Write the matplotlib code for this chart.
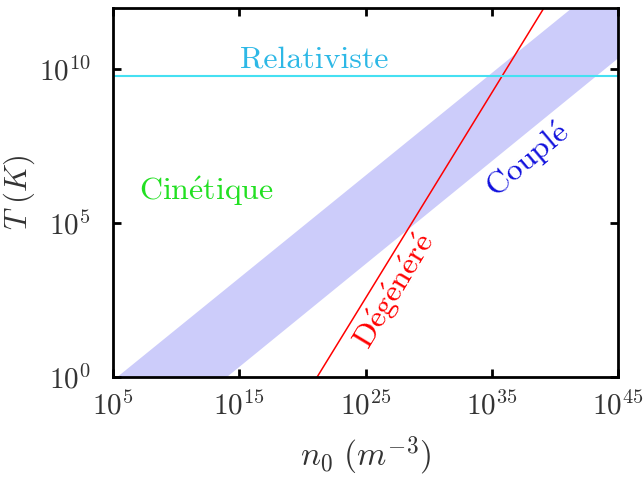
import numpy as np
import matplotlib
matplotlib.use("Agg")
import matplotlib.pyplot as plt

plt.rcParams['font.family'] = 'serif'
plt.rcParams['font.serif'] = ['cmr10']
plt.rcParams['mathtext.fontset'] = 'cm'
plt.rcParams['axes.formatter.use_mathtext'] = True

# bornes
n_bande = [1e5, 1e45]
T_haut = [10**-0.1, 10**13.2]      # bord superieur de la zone couplee
T_bas = [10**-3.0, 10**10.35]      # bord inferieur
n_deg = [10**21.15, 10**39.15]     # limite degeneree
T_deg = [1e0, 1e12]
T_rel = 6e9                        # limite relativiste

x_ticks = [1e5, 1e15, 1e25, 1e35, 1e45]
y_ticks = [1e0, 1e5, 1e10]

fig = plt.figure(figsize=(6.43, 4.8), dpi=100)
ax = fig.add_axes([0.176, 0.214, 0.785, 0.770])

ax.fill_between(n_bande, T_bas, T_haut, color=(0.80, 0.80, 0.98), lw=0)
ax.plot(n_deg, T_deg, color='red', lw=1.1)
ax.axhline(T_rel, color='#45e0f2', lw=1.5)

ax.set_xscale('log')
ax.set_yscale('log')
ax.set_xlim(1e5, 1e45)
ax.set_ylim(1e0, 1e12)
ax.set_xticks(x_ticks)
ax.set_yticks(y_ticks)
ax.minorticks_off()
ax.tick_params(direction='in', length=6, width=2, top=True, right=True,
               labelsize=21, pad=10, labelcolor='#333333')
ax.tick_params(axis='y', pad=16)
for s in ax.spines.values():
    s.set_linewidth(2)

ax.set_xlabel(r'$n_0\ (m^{-3})$', fontsize=24, color='#333333', labelpad=10)
ax.set_ylabel(r'$T\ (K)$', fontsize=22, color='#333333', labelpad=1)

ax.text(10**20.9, 10**10.3, 'Relativiste', color='#2db8e6', fontsize=23,
        ha='center', va='center')
ax.text(10**12.4, 10**6.05, r'$\mathrm{Cin\acute{e}tique}$', color='#22e022',
        fontsize=23, ha='center', va='center')
ax.text(10**37.9, 10**7.05, r'$\mathrm{Coupl\acute{e}}$', color='#1010dd',
        fontsize=23, ha='center', va='center', rotation=40)
ax.text(10**27.3, 10**2.8, r'$\mathrm{D\acute{e}g\acute{e}n\acute{e}r\acute{e}}$',
        color='red', fontsize=23, ha='center', va='center', rotation=59)

fig.savefig('out.png', dpi=100)
